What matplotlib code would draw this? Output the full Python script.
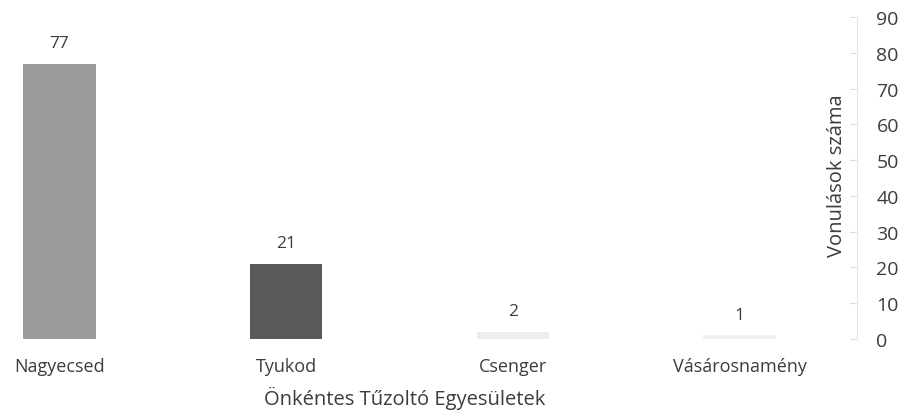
import matplotlib
matplotlib.use("Agg")
import matplotlib.pyplot as plt

categories = ["Nagyecsed", "Tyukod", "Csenger", "Vásárosnamény"]
values = [77, 21, 2, 1]
bar_colors = ["#9b9b9b", "#595959", "#ededed", "#f1f1f1"]
yticks = [0, 10, 20, 30, 40, 50, 60, 70, 80, 90]
xlabel = "Önkéntes Tűzoltó Egyesületek"
ylabel = "Vonulások száma"

plt.rcParams['font.family'] = ['Open Sans', 'DejaVu Sans']
txt = "#3c3c3c"

W, H = 906, 414
fig = plt.figure(figsize=(W / 100, H / 100), dpi=100)
left_px, right_px = 0, 857
bot_px, top_px = 340, 18
ax = fig.add_axes([left_px / W, (H - bot_px) / H, (right_px - left_px) / W, (bot_px - top_px) / H])

x = list(range(len(categories)))
ax.bar(x, values, width=0.32, color=bar_colors, zorder=2)
ax.set_xlim(-0.262, 3.518)
ax.set_ylim(0, 90)

for xi, v in zip(x, values):
    ax.annotate(str(v), (xi, v), xytext=(0, 9), textcoords="offset points",
                ha="center", va="bottom", fontsize=12.5, color=txt)

ax.yaxis.tick_right()
ax.set_yticks(yticks)
ax.set_yticklabels([str(t) for t in yticks], fontsize=14, color=txt)
ax.tick_params(axis="y", direction="in", length=5, color="#dddddd", pad=14)

ax.set_xticks(x)
ax.set_xticklabels(categories, fontsize=13, color=txt)
ax.tick_params(axis="x", length=0, pad=13)

for s in ["top", "left", "bottom"]:
    ax.spines[s].set_visible(False)
ax.spines["right"].set_color("#e6e6e6")
ax.spines["right"].set_linewidth(0.8)

fig.text(405 / W, 1 - 398 / H, xlabel, ha="center", va="center", fontsize=14.5, color=txt)
fig.text(837 / W, 1 - 176 / H, ylabel, ha="center", va="center", rotation=90, fontsize=14.5, color=txt)

fig.savefig("out.png", dpi=100)
